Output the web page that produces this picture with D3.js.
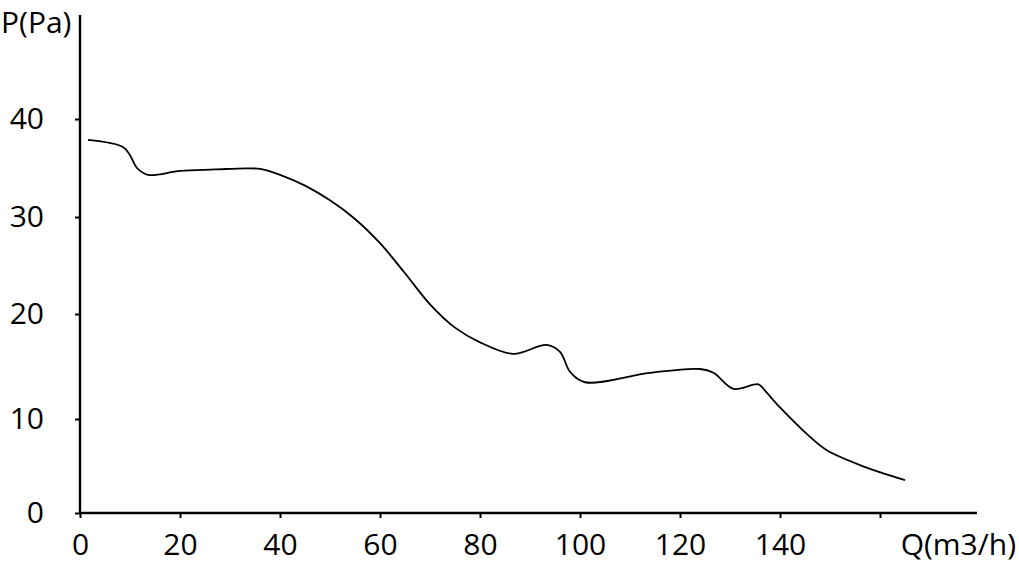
<!DOCTYPE html>
<html>
<head>
<meta charset="utf-8">
<script src="https://cdn.jsdelivr.net/npm/d3@7"></script>
<style>
  html, body { margin: 0; padding: 0; background: #fff; }
  svg { display: block; }
  text { font-family: "Open Sans", "Lato", sans-serif; fill: #000; }
</style>
</head>
<body>
<svg id="chart" width="1019" height="565"></svg>
<script>
// Data
const flow = [1.6, 8.6, 10, 11.4, 13.6, 20, 27, 33.4, 36, 40, 45, 50, 55, 60, 65, 70, 75, 80, 86.7, 93.3, 96, 98, 101, 114, 124, 126.7, 130.7, 135.7, 137, 140, 146, 149.3, 156, 165];
const pressure = [37.86, 37.14, 36.3, 35.0, 34.3, 34.7, 34.85, 34.97, 34.9, 34.3, 33.2, 31.7, 29.8, 27.3, 24.2, 21.0, 18.7, 17.3, 16.2, 17.05, 16.4, 14.5, 13.5, 14.4, 14.76, 14.4, 12.86, 13.3, 12.7, 11.1, 8.1, 6.7, 5.1, 3.5];
const xTicks = [0, 20, 40, 60, 80, 100, 120, 140, 160];
const xTickLabels = ["0", "20", "40", "60", "80", "100", "120", "140", ""];
const yTicks = [0, 10, 20, 30, 40];
const yTickLabels = ["0", "10", "20", "30", "40"];
const xTitle = "Q(m3/h)";
const yTitle = "P(Pa)";

const svg = d3.select("#chart");
const x0 = 80, xEnd = 977, yBase = 513, yTop = 15;
const fs = 30;

const x = d3.scaleLinear().domain([0, 179.4]).range([x0, xEnd]);
const y = d3.scaleLinear().domain([0, 10, 20, 30, 40]).range([513, 419, 314, 217, 119]);

// Axes
const xAxis = d3.axisBottom(x).tickValues(xTicks).tickSize(5).tickPadding(16)
  .tickFormat((d, i) => xTickLabels[i]);
const gx = svg.append("g").attr("transform", `translate(0,${yBase})`).call(xAxis);
gx.select(".domain").remove();
gx.append("line").attr("x1", x0 - 1).attr("x2", xEnd).attr("y1", 0).attr("y2", 0)
  .attr("stroke", "#000").attr("stroke-width", 2.4);
gx.selectAll(".tick line").attr("stroke", "#000").attr("stroke-width", 2);
gx.selectAll(".tick text").attr("font-size", fs).attr("font-family", "Open Sans").attr("fill", "#000");

const yAxis = d3.axisLeft(y).tickValues(yTicks).tickSize(5).tickPadding(31)
  .tickFormat((d, i) => yTickLabels[i]);
const gy = svg.append("g").attr("transform", `translate(${x0},0)`).call(yAxis);
gy.select(".domain").remove();
gy.append("line").attr("x1", 0).attr("x2", 0).attr("y1", yTop).attr("y2", yBase + 1)
  .attr("stroke", "#000").attr("stroke-width", 2.4);
gy.selectAll(".tick line").attr("stroke", "#000").attr("stroke-width", 2);
gy.selectAll(".tick text").attr("font-size", fs).attr("font-family", "Open Sans").attr("fill", "#000");

// Titles
svg.append("text").attr("x", 1).attr("y", 33).attr("font-size", fs).text(yTitle);
svg.append("text").attr("x", 1016).attr("y", 555).attr("text-anchor", "end").attr("font-size", fs).text(xTitle);

// Curve
const pts = flow.map((q, i) => [q, pressure[i]]);
const line = d3.line().x(d => x(d[0])).y(d => y(d[1])).curve(d3.curveCatmullRom.alpha(0.5));
svg.append("path").datum(pts).attr("d", line)
  .attr("fill", "none").attr("stroke", "#000").attr("stroke-width", 1.8);
</script>
</body>
</html>
